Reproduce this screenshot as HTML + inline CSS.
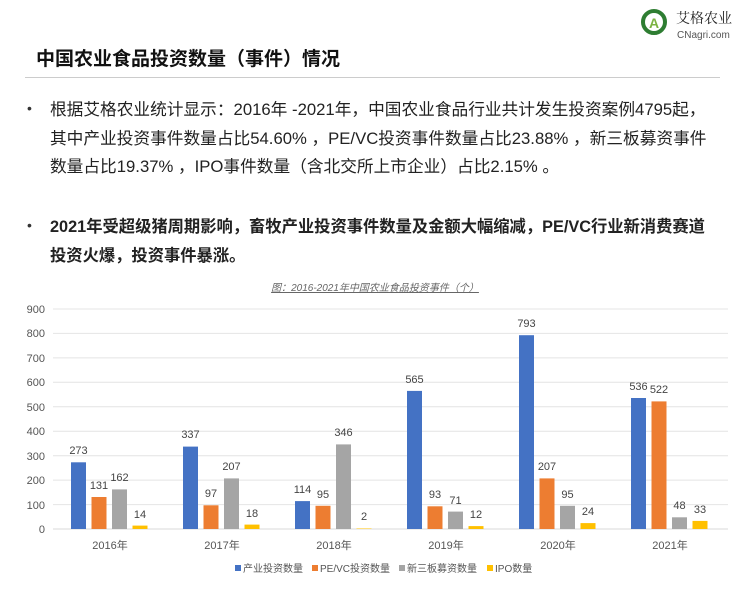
<!DOCTYPE html>
<html><head><meta charset="utf-8"><style>
body{margin:0;width:750px;height:600px;background:#fff;overflow:hidden;font-family:"Liberation Sans","Noto Sans CJK SC",sans-serif;position:relative}
.t{position:absolute;left:36px;top:44px;font-size:19px;font-weight:bold;color:#111}
.hr{position:absolute;left:25px;top:77px;width:695px;height:1px;background:#ccc}
.b{position:absolute;left:50px;font-size:16.7px;color:#222;line-height:28.5px;white-space:nowrap}
.dot{position:absolute;left:27px;font-size:14px;color:#333}
</style></head><body>
<div class="t">中国农业食品投资数量（事件）情况</div>
<div class="hr"></div>
<svg style="position:absolute;left:640px;top:6px" width="110" height="36">
<circle cx="14" cy="16" r="11" fill="none" stroke="#2e7d32" stroke-width="4"/>
<text x="14" y="22" font-size="14" font-weight="bold" fill="#7cb342" text-anchor="middle">A</text>
<text x="36" y="17" font-size="14" fill="#222" font-family="Noto Serif CJK SC,serif">艾格农业</text>
<text x="37" y="32" font-size="10" fill="#555">CNagri.com</text>
</svg>
<div class="dot" style="top:100px">•</div>
<div class="b" style="top:96px">根据艾格农业统计显示：2016年 -2021年，中国农业食品行业共计发生投资案例4795起，<br>其中产业投资事件数量占比54.60% ，PE/VC投资事件数量占比23.88% ，新三板募资事件<br>数量占比19.37% ，IPO事件数量（含北交所上市企业）占比2.15% 。</div>
<div class="dot" style="top:217px">•</div>
<div class="b" style="top:213px;font-weight:bold;font-size:16.3px">2021年受超级猪周期影响，畜牧产业投资事件数量及金额大幅缩减，PE/VC行业新消费赛道<br>投资火爆，投资事件暴涨。</div>
<svg style="position:absolute;left:0;top:0" width="750" height="600" font-family="Liberation Sans,Noto Sans CJK SC,sans-serif">
<text x="375" y="291" font-size="10" fill="#666" font-style="italic" text-anchor="middle" text-decoration="underline">图：2016-2021年中国农业食品投资事件（个）</text>
<g stroke="#e4e4e4" stroke-width="1">
<line x1="53" x2="728" y1="309" y2="309"/><line x1="53" x2="728" y1="333.4" y2="333.4"/><line x1="53" x2="728" y1="357.9" y2="357.9"/><line x1="53" x2="728" y1="382.3" y2="382.3"/><line x1="53" x2="728" y1="406.8" y2="406.8"/><line x1="53" x2="728" y1="431.2" y2="431.2"/><line x1="53" x2="728" y1="455.7" y2="455.7"/><line x1="53" x2="728" y1="480.1" y2="480.1"/><line x1="53" x2="728" y1="504.6" y2="504.6"/><line x1="53" x2="728" y1="529" y2="529" stroke="#d8d8d8"/>
</g>
<g font-size="11" fill="#555" text-anchor="end">
<text x="45" y="313">900</text><text x="45" y="337">800</text><text x="45" y="362">700</text><text x="45" y="386">600</text><text x="45" y="411">500</text><text x="45" y="435">400</text><text x="45" y="460">300</text><text x="45" y="484">200</text><text x="45" y="509">100</text><text x="45" y="533">0</text>
</g>
<g fill="#4472c4">
<rect x="71" y="462.3" width="15" height="66.7"/><rect x="183" y="446.6" width="15" height="82.4"/><rect x="295" y="501.1" width="15" height="27.9"/><rect x="407" y="390.9" width="15" height="138.1"/><rect x="519" y="335.2" width="15" height="193.8"/><rect x="631" y="398" width="15" height="131"/>
</g>
<g fill="#ed7d31">
<rect x="91.5" y="497" width="15" height="32"/><rect x="203.5" y="505.3" width="15" height="23.7"/><rect x="315.5" y="505.8" width="15" height="23.2"/><rect x="427.5" y="506.3" width="15" height="22.7"/><rect x="539.5" y="478.4" width="15" height="50.6"/><rect x="651.5" y="401.4" width="15" height="127.6"/>
</g>
<g fill="#a5a5a5">
<rect x="112" y="489.4" width="15" height="39.6"/><rect x="224" y="478.4" width="15" height="50.6"/><rect x="336" y="444.4" width="15" height="84.6"/><rect x="448" y="511.6" width="15" height="17.4"/><rect x="560" y="505.8" width="15" height="23.2"/><rect x="672" y="517.3" width="15" height="11.7"/>
</g>
<g fill="#ffc000">
<rect x="132.5" y="525.6" width="15" height="3.4"/><rect x="244.5" y="524.6" width="15" height="4.4"/><rect x="356.5" y="528.5" width="15" height="0.5"/><rect x="468.5" y="526.1" width="15" height="2.9"/><rect x="580.5" y="523.1" width="15" height="5.9"/><rect x="692.5" y="520.9" width="15" height="8.1"/>
</g>
<g font-size="11" fill="#444" text-anchor="middle">
<text x="78.5" y="454">273</text><text x="99" y="489">131</text><text x="119.5" y="481">162</text><text x="140" y="518">14</text>
<text x="190.5" y="438">337</text><text x="211" y="497">97</text><text x="231.5" y="470">207</text><text x="252" y="517">18</text>
<text x="302.5" y="493">114</text><text x="323" y="498">95</text><text x="343.5" y="436">346</text><text x="364" y="520">2</text>
<text x="414.5" y="383">565</text><text x="435" y="498">93</text><text x="455.5" y="504">71</text><text x="476" y="518">12</text>
<text x="526.5" y="327">793</text><text x="547" y="470">207</text><text x="567.5" y="498">95</text><text x="588" y="515">24</text>
<text x="638.5" y="390">536</text><text x="659" y="393">522</text><text x="679.5" y="509">48</text><text x="700" y="513">33</text>
</g>
<g font-size="11" fill="#555" text-anchor="middle">
<text x="110" y="549">2016年</text><text x="222" y="549">2017年</text><text x="334" y="549">2018年</text><text x="446" y="549">2019年</text><text x="558" y="549">2020年</text><text x="670" y="549">2021年</text>
</g>
<g font-size="10" fill="#555">
<rect x="235" y="565" width="6" height="6" fill="#4472c4"/><text x="243" y="572">产业投资数量</text>
<rect x="312" y="565" width="6" height="6" fill="#ed7d31"/><text x="320" y="572">PE/VC投资数量</text>
<rect x="399" y="565" width="6" height="6" fill="#a5a5a5"/><text x="407" y="572">新三板募资数量</text>
<rect x="487" y="565" width="6" height="6" fill="#ffc000"/><text x="495" y="572">IPO数量</text>
</g>
</svg>
</body></html>
